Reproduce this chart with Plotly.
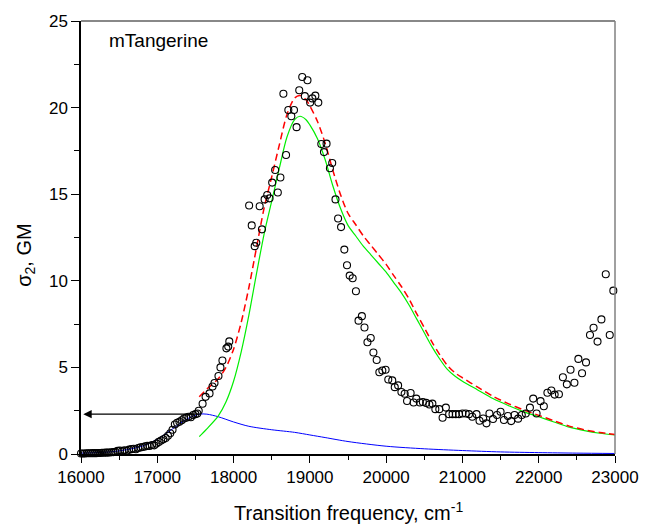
import plotly.graph_objects as go

# ---- experimental points (open circles) ----
exp_x = [16000, 16025, 16050, 16075, 16100, 16125, 16150, 16175, 16200, 16225,
         16250, 16275, 16300, 16325, 16350, 16375, 16400, 16425, 16450, 16480,
         16510, 16540, 16570, 16600, 16630, 16660, 16690, 16720, 16750, 16780,
         16810, 16840, 16870, 16900, 16930, 16960, 16990, 17020, 17050, 17080,
         17110, 17140, 17170, 17200, 17230, 17260, 17290, 17320, 17350, 17380,
         17410, 17440, 17470, 17500, 17525,
         17543, 17594, 17633, 17685, 17724, 17750, 17802, 17828, 17854, 17906,
         17930, 17944,
         18204, 18238, 18277, 18298, 18342, 18372, 18407, 18441, 18472, 18506,
         18545, 18580, 18614, 18653, 18688, 18718, 18757, 18792, 18826, 18861,
         18900, 18934, 18969, 19004, 19033, 19072, 19111, 19150, 19185, 19219,
         19263, 19293, 19336, 19370, 19409, 19452, 19487, 19522, 19561, 19604,
         19638, 19682, 19716, 19755, 19798, 19833, 19876, 19911, 19950, 19993,
         20028, 20080, 20113, 20157, 20200, 20243, 20274, 20321, 20360, 20395,
         20442, 20481, 20524, 20567, 20606, 20645, 20697, 20740, 20783, 20826,
         20870, 20913, 20956, 21000, 21043, 21086, 21129, 21185, 21224, 21272,
         21315, 21354, 21401, 21453, 21500, 21544, 21596, 21639, 21683, 21730,
         21778, 21830, 21885, 21928, 21972, 22024, 22067, 22114, 22166, 22209,
         22265, 22317, 22369, 22417, 22468, 22520, 22568, 22620, 22672, 22719,
         22771, 22822, 22879, 22931, 22978]
exp_y = [0.03, 0.03, 0.03, 0.04, 0.04, 0.04, 0.05, 0.05, 0.05, 0.06,
         0.06, 0.07, 0.07, 0.08, 0.08, 0.09, 0.10, 0.11, 0.12, 0.18,
         0.20, 0.17, 0.21, 0.19, 0.25, 0.28, 0.30, 0.27, 0.35, 0.38,
         0.40, 0.44, 0.47, 0.46, 0.52, 0.50, 0.60, 0.70, 0.78, 0.85,
         0.92, 1.05, 1.20, 1.40, 1.70, 1.80, 1.86, 1.95, 2.05, 2.10,
         2.15, 2.12, 2.25, 2.30, 2.34,
         2.5, 2.9, 3.3, 3.5, 3.9, 4.1, 4.5, 5.0, 5.4, 6.1,
         6.2, 6.5,
         14.35, 13.2, 12.0, 12.2, 14.3, 12.97, 14.7, 14.95, 14.76, 15.67,
         16.4, 15.1, 15.96, 20.8, 17.26, 19.86, 19.5, 19.86, 18.87, 21.0,
         21.77, 20.66, 21.58, 20.29, 20.53, 20.69, 20.29, 17.9, 17.43, 17.92,
         16.5, 16.8, 14.7, 13.6, 13.1, 11.8, 10.9, 10.3, 10.15, 9.4,
         7.7, 7.96, 7.3, 6.45, 6.7, 5.86, 5.43, 4.72, 4.82, 4.86,
         4.3, 4.25, 3.86, 3.96, 3.58, 3.48, 3.06, 3.52, 2.97, 3.2,
         2.97, 3.0, 2.95, 2.86, 2.91, 2.59, 2.59, 2.09, 2.68, 2.3,
         2.3, 2.3, 2.3, 2.34, 2.34, 2.3, 2.15, 2.3, 1.92, 2.05,
         1.77, 2.34, 2.02, 2.25, 2.44, 1.96, 2.19, 1.9, 2.25, 2.04,
         2.25, 2.34, 2.68, 3.2, 2.34, 3.05, 2.76, 3.54, 3.67, 3.43,
         3.45, 4.43, 4.02, 4.86, 4.11, 5.49, 4.66, 5.29, 6.87, 7.29,
         6.49, 7.77, 10.38, 6.87, 9.43]

# ---- blue curve ----
blue_x = [16000, 16200, 16400, 16600, 16800, 17000, 17200, 17400, 17550, 17650,
          17800, 18000, 18200, 18500, 18800, 19000, 19200, 19500, 20000, 20500,
          21000, 21500, 22000, 22500, 23000]
blue_y = [0.05, 0.08, 0.13, 0.25, 0.45, 0.85, 1.45, 2.05, 2.3, 2.3,
          2.15, 1.85, 1.6, 1.4, 1.25, 1.1, 0.95, 0.72, 0.45, 0.3,
          0.2, 0.12, 0.08, 0.05, 0.03]

# ---- green curve ----
green_x = [17550, 17650, 17800, 17900, 18000, 18100, 18200, 18300, 18400, 18500,
           18600, 18700, 18800, 18870, 18950, 19000, 19100, 19200, 19300, 19400,
           19500, 19600, 19700, 19800, 19900, 20000, 20100, 20200, 20300, 20400,
           20500, 20600, 20700, 20800, 20900, 21000, 21200, 21400, 21600, 21800,
           22000, 22200, 22400, 22600, 22800, 23000]
green_y = [1.0, 1.45, 2.2, 3.0, 4.2, 5.9, 8.0, 10.4, 12.7, 14.6,
           16.5, 18.3, 19.3, 19.5, 19.3, 19.0, 18.2, 17.0, 15.5, 14.2,
           13.2, 12.6, 12.0, 11.5, 11.0, 10.5, 9.9, 9.3, 8.6, 7.8,
           7.0, 6.2, 5.5, 4.9, 4.5, 4.2, 3.7, 3.2, 2.8, 2.45,
           2.15, 1.85, 1.55, 1.35, 1.2, 1.1]

# ---- red dashed curve ----
red_x = green_x
red_y = [3.3, 3.75, 4.35, 5.0, 6.05, 7.6, 9.6, 11.9, 14.2, 16.0,
         17.85, 19.6, 20.55, 20.7, 20.45, 20.1, 19.2, 17.95, 16.4, 15.0,
         13.9, 13.25, 12.6, 12.05, 11.5, 10.95, 10.3, 9.67, 8.95, 8.1,
         7.3, 6.47, 5.75, 5.13, 4.7, 4.4, 3.86, 3.33, 2.91, 2.55,
         2.23, 1.92, 1.61, 1.4, 1.24, 1.13]

# arrow endpoints (data)
arrow_from = (17560, 2.3)
arrow_to = (16030, 2.3)

FONT = "Arial, 'Liberation Sans', sans-serif"

fig = go.Figure()
fig.add_trace(go.Scatter(x=blue_x, y=blue_y, mode="lines",
                         line=dict(color="#0000ff", width=1, shape="spline", smoothing=0.8),
                         cliponaxis=False))
fig.add_trace(go.Scatter(x=green_x, y=green_y, mode="lines",
                         line=dict(color="#00ee00", width=1.2, shape="spline", smoothing=0.8)))
fig.add_trace(go.Scatter(x=red_x, y=red_y, mode="lines",
                         line=dict(color="#ff0000", width=1.5, dash="7px,4px",
                                   shape="spline", smoothing=0.8)))
fig.add_trace(go.Scatter(x=exp_x, y=exp_y, mode="markers",
                         marker=dict(symbol="circle-open", size=7, color="black",
                                     line=dict(width=1.1)),
                         cliponaxis=False))

fig.add_annotation(x=arrow_to[0], y=arrow_to[1], ax=arrow_from[0], ay=arrow_from[1],
                   xref="x", yref="y", axref="x", ayref="y", text="",
                   showarrow=True, arrowhead=2, arrowsize=1.4, arrowwidth=1.2,
                   arrowcolor="black", standoff=0, startstandoff=0)

fig.add_annotation(x=0.048, y=0.954, xref="paper", yref="paper", text="mTangerine",
                   showarrow=False, xanchor="left", yanchor="middle",
                   font=dict(family=FONT, size=19, color="black"))

fig.add_annotation(x=-0.103, y=0.46, xref="paper", yref="paper",
                   text="σ<sub>2</sub>, GM", textangle=-90, showarrow=False,
                   xanchor="center", yanchor="middle",
                   font=dict(family=FONT, size=20, color="black"))

fig.add_annotation(x=0.5, y=-0.133, xref="paper", yref="paper",
                   text="Transition frequency, cm<sup>-1</sup>", showarrow=False,
                   xanchor="center", yanchor="middle",
                   font=dict(family=FONT, size=20, color="black"))

# top and right frame lines (gray)
fig.add_shape(type="line", xref="paper", yref="paper", x0=0, x1=1, y0=1, y1=1,
              line=dict(color="#606060", width=1.3))
fig.add_shape(type="line", xref="paper", yref="paper", x0=1, x1=1, y0=0, y1=1,
              line=dict(color="#808080", width=1.5))

fig.update_layout(
    width=651, height=531,
    margin=dict(l=81, r=30, t=17, b=77),
    paper_bgcolor="white", plot_bgcolor="white",
    showlegend=False,
    font=dict(family=FONT, size=16, color="black"),
)
fig.update_xaxes(range=[16000, 23000], showgrid=False, zeroline=False,
                 showline=True, linecolor="black", linewidth=1.5,
                 ticks="outside", ticklen=7, tickwidth=1.3, tickcolor="black",
                 dtick=1000, tick0=16000, tickformat="d",
                 tickfont=dict(family=FONT, size=17),
                 minor=dict(ticks="outside", ticklen=4, tickwidth=1.3,
                            tickcolor="black", dtick=500, tick0=16000))
fig.update_yaxes(range=[0, 25], showgrid=False, zeroline=False,
                 showline=True, linecolor="black", linewidth=1.5,
                 ticks="outside", ticklen=8, tickwidth=1.3, tickcolor="black",
                 dtick=5, tick0=0,
                 tickfont=dict(family=FONT, size=17),
                 minor=dict(ticks="outside", ticklen=5, tickwidth=1.3,
                            tickcolor="black", dtick=2.5, tick0=0))

fig.write_html("out.html")
